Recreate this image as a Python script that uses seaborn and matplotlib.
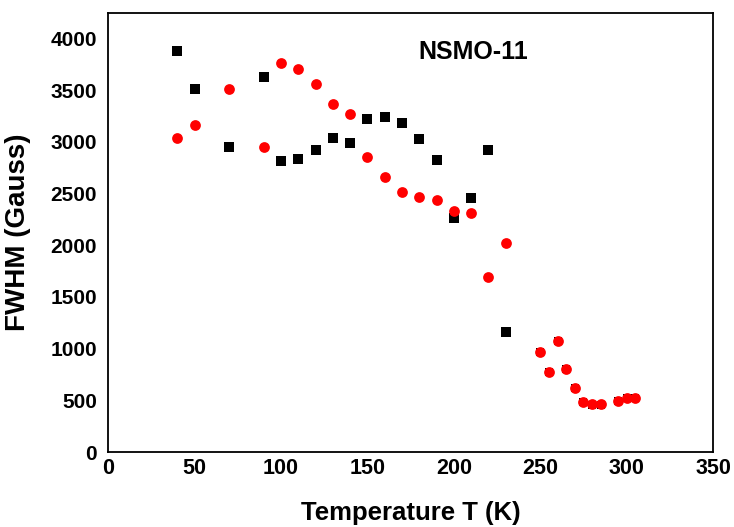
import matplotlib
matplotlib.use("Agg")
import matplotlib.pyplot as plt
from matplotlib.ticker import MultipleLocator
import seaborn as sns
import pandas as pd

# Black squares series
t_black = [40, 50, 70, 90, 100, 110, 120, 130, 140, 150, 160, 170, 180, 190,
           200, 210, 220, 230, 250, 255, 260, 265, 270, 275, 280, 285, 295, 300, 305]
fwhm_black = [3880, 3515, 2950, 3630, 2815, 2835, 2925, 3040, 2985, 3225, 3240,
              3185, 3030, 2825, 2260, 2460, 2925, 1165, 972, 772, 1074, 800, 622,
              485, 459, 459, 496, 525, 525]

# Red circles series
t_red = [40, 50, 70, 90, 100, 110, 120, 130, 140, 150, 160, 170, 180, 190,
         200, 210, 220, 230, 250, 255, 260, 265, 270, 275, 280, 285, 295, 300, 305]
fwhm_red = [3040, 3160, 3515, 2955, 3760, 3710, 3565, 3365, 3270, 2850, 2660,
            2515, 2470, 2440, 2330, 2310, 1695, 2025, 970, 770, 1075, 800, 620,
            485, 460, 460, 495, 525, 525]

x_ticks = [0, 50, 100, 150, 200, 250, 300, 350]
y_ticks = [0, 500, 1000, 1500, 2000, 2500, 3000, 3500, 4000]

sns.set_theme(style="white")
plt.rcParams['font.family'] = ['Liberation Sans', 'DejaVu Sans']

fig = plt.figure(figsize=(7.34, 5.27), dpi=100)
ax = fig.add_axes([0.1475, 0.1423, 0.8239, 0.8336])

df_b = pd.DataFrame({"T": t_black, "F": fwhm_black})
df_r = pd.DataFrame({"T": t_red, "F": fwhm_red})
overlap = df_b["T"] >= 250

sns.scatterplot(data=df_b[~overlap], x="T", y="F", marker="s", s=48, color="black",
                linewidth=0, ax=ax, zorder=3)
sns.scatterplot(data=df_b[overlap], x="T", y="F", marker="s", s=34, color="black",
                linewidth=0, ax=ax, zorder=3)
sns.scatterplot(data=df_r, x="T", y="F", marker="o", s=60, color="#ff0000",
                linewidth=0, ax=ax, zorder=4)

ax.set_xlim(0, 350)
ax.set_ylim(0, 4250)
ax.set_xticks(x_ticks)
ax.set_yticks(y_ticks)
ax.xaxis.set_minor_locator(MultipleLocator(25))
ax.yaxis.set_minor_locator(MultipleLocator(250))
ax.set_xticklabels([str(v) for v in x_ticks], fontsize=15.5, fontweight="bold")
ax.set_yticklabels([str(v) for v in y_ticks], fontsize=15, fontweight="bold")

ax.tick_params(axis="both", which="major", direction="in", length=7.5, width=1.2,
               color="black", labelcolor="black")
ax.tick_params(axis="both", which="minor", direction="in", length=3.8, width=1.2,
               color="black")
ax.tick_params(axis="x", which="major", pad=4)
ax.tick_params(axis="y", which="major", pad=8)

for sp in ax.spines.values():
    sp.set_visible(True)
    sp.set_color("black")
    sp.set_linewidth(1.3)

ax.set_xlabel("Temperature T (K)", fontsize=18.5, fontweight="bold", color="black")
ax.xaxis.label.set_va("center")
ax.xaxis.set_label_coords(0.5, -0.139)
ax.set_ylabel("FWHM (Gauss)", fontsize=20, fontweight="bold", color="black")
ax.yaxis.label.set_va("center")
ax.yaxis.set_label_coords(-0.15, 0.5)
ax.grid(False)

ax.text(0.604, 0.911, "NSMO-11", transform=ax.transAxes, ha="center", va="center",
        fontsize=18, fontweight="bold", color="black")

fig.savefig("out.png", dpi=100)
